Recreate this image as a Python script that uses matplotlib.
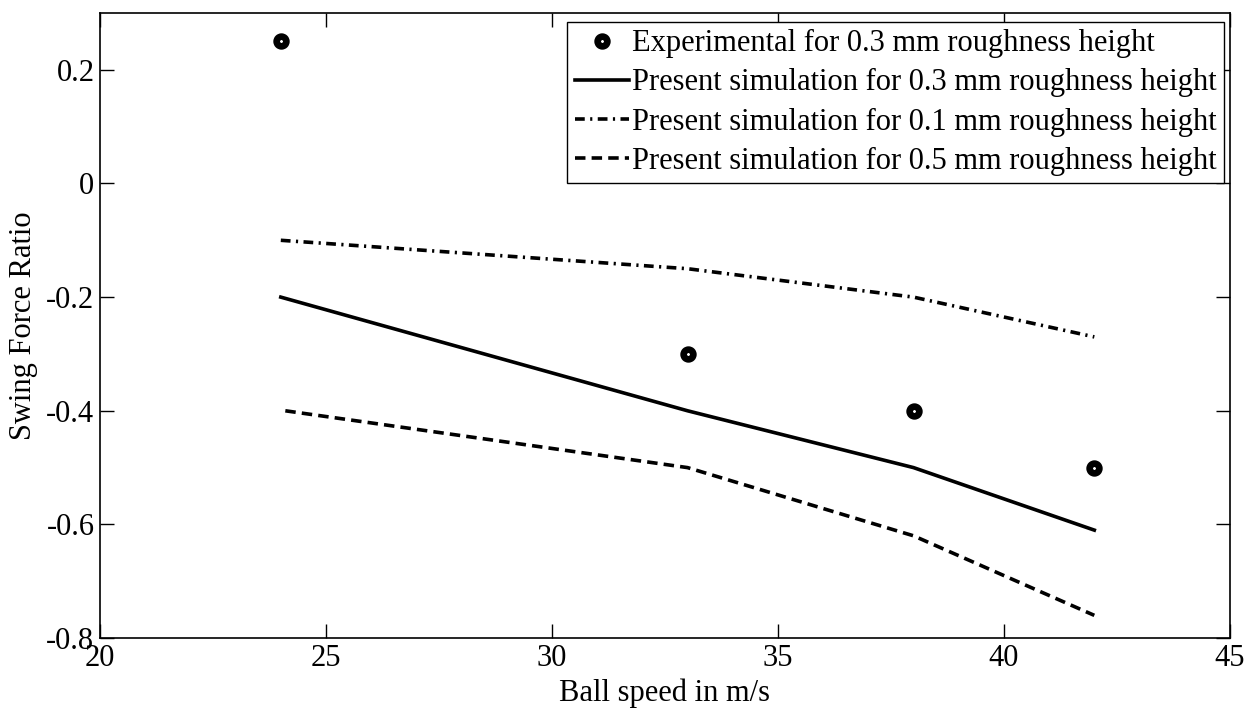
import matplotlib
matplotlib.use("Agg")
import matplotlib.pyplot as plt
import numpy as np

plt.rcParams['font.family'] = ['Liberation Serif', 'DejaVu Serif']

# Dados
x_exp = [24, 33, 38, 42]
y_exp = [0.25, -0.3, -0.4, -0.5]

x_sim03 = [24, 33, 38, 42]
y_sim03 = [-0.2, -0.4, -0.5, -0.61]

x_sim01 = [24, 33, 38, 42]
y_sim01 = [-0.1, -0.15, -0.2, -0.27]

x_sim05 = [24.1, 33, 38, 42]
y_sim05 = [-0.4, -0.5, -0.62, -0.76]

labels = ["Experimental for 0.3 mm roughness height",
          "Present simulation for 0.3 mm roughness height",
          "Present simulation for 0.1 mm roughness height",
          "Present simulation for 0.5 mm roughness height"]

fig = plt.figure(figsize=(12.55, 7.09), dpi=100)
ax = fig.add_axes([0.0797, 0.100, 0.9003, 0.8817])

ax.plot(x_exp, y_exp, "o", color="k", mfc="white", mec="k", ms=7, mew=4.8,
        linestyle="none", label=labels[0])
ax.plot(x_sim03, y_sim03, "-", color="k", lw=2.6, label=labels[1])
ax.plot(x_sim01, y_sim01, color="k", lw=2.6, dashes=(2.7, 1.5, 0.6, 1.5),
        label=labels[2])
ax.plot(x_sim05, y_sim05, color="k", lw=2.6, dashes=(2.9, 1.7), label=labels[3])

ax.set_xlim(20, 45)
ax.set_ylim(-0.8, 0.3)
ax.set_xticks([20, 25, 30, 35, 40, 45])
ax.set_yticks([-0.8, -0.6, -0.4, -0.2, 0, 0.2])
ax.set_yticklabels(["-0.8", "-0.6", "-0.4", "-0.2", "0", "0.2"])
ax.tick_params(direction="in", length=10, width=1, top=True, right=True,
               labelsize=22, pad=4)
for s in ax.spines.values():
    s.set_linewidth(1.2)

ax.set_xlabel("Ball speed in m/s", fontsize=22, labelpad=4)
ax.set_ylabel("Swing Force Ratio", fontsize=22, labelpad=6)

leg = ax.legend(loc="upper right", bbox_to_anchor=(0.9947, 0.986), fontsize=22,
                handlelength=1.75, handletextpad=0.1, borderpad=0.25,
                labelspacing=0.33, borderaxespad=0, fancybox=False,
                edgecolor="k", framealpha=1)
leg.get_frame().set_linewidth(1.0)

fig.savefig("out.png", dpi=100)
